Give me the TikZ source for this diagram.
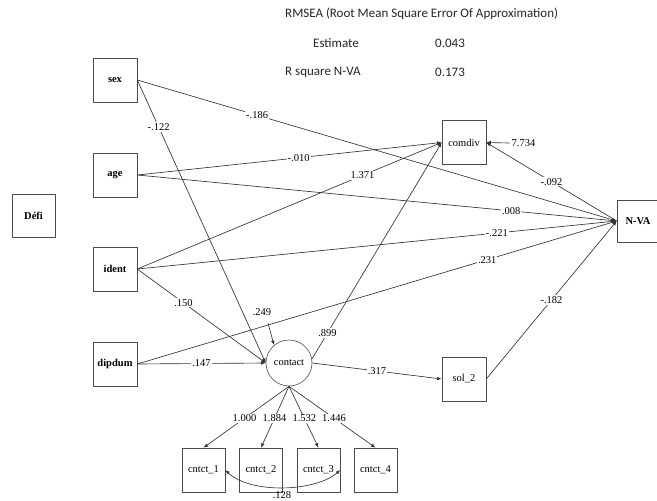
\documentclass[tikz,border=0pt]{standalone}
\usepackage{fontspec}
\setmainfont{Liberation Serif}
\newfontfamily\hdrfont{Carlito}
\usetikzlibrary{arrows.meta}
\begin{document}
\begin{tikzpicture}[x=1pt,y=-1pt,
  line/.style={draw=black!80, line width=0.65pt},
  arr/.style={line, -{Latex[length=4.5pt,width=3.5pt]}},
  boxnode/.style={draw=black!70, line width=0.6pt, minimum width=44pt, minimum height=44pt, inner sep=0pt, font=\fontsize{10.5}{12}\selectfont},
  boldbox/.style={boxnode, font=\fontsize{10.5}{12}\selectfont\bfseries},
  circnode/.style={draw=black!70, line width=0.6pt, circle, minimum size=46pt, inner sep=0pt, font=\fontsize{10.5}{12}\selectfont},
  lbl/.style={fill=white, inner sep=1pt, font=\fontsize{10.5}{12}\selectfont},
  hdr/.style={font=\hdrfont\fontsize{13}{15}\selectfont, text=black!85, inner sep=0pt}
]
\useasboundingbox (0,0) rectangle (657,501);

% header
\node[hdr, anchor=west] (h1) at (285,14) {RMSEA (Root Mean Square Error Of Approximation)};
\node[hdr, anchor=west] (h2) at (313,43) {Estimate};
\node[hdr, anchor=west] (h3) at (435,43) {0.043};
\node[hdr, anchor=west] (h4) at (285,72) {R square N-VA};
\node[hdr, anchor=west] (h5) at (435,72) {0.173};

% nodes
\node[boldbox] (sex) at (115,80) {sex};
\node[boldbox] (age) at (115,175) {age};
\node[boldbox] (ident) at (115,269) {ident};
\node[boldbox] (dipdum) at (115,364) {dipdum};
\node[boldbox, minimum width=43pt, minimum height=43pt] (defi) at (33.5,215.5) {Défi};
\node[boxnode] (comdiv) at (464,142.5) {comdiv};
\node[boldbox, minimum width=42pt, minimum height=42pt] (nva) at (638,221) {N-VA};
\node[boxnode] (sol) at (464,379) {sol\_2};
\node[circnode] (contact) at (289,363) {contact};
\node[boxnode, minimum width=43pt] (c1) at (203.5,470) {cntct\_1};
\node[boxnode, minimum width=43pt] (c2) at (261,470) {cntct\_2};
\node[boxnode, minimum width=43pt] (c3) at (318.5,470) {cntct\_3};
\node[boxnode, minimum width=43pt] (c4) at (375.5,470) {cntct\_4};

% paths into N-VA
\draw[arr] (sex.east) -- node[lbl, pos=0.25] {-.186} (nva.west);
\draw[arr] (age.east) -- node[lbl, pos=0.78] {.008} (nva.west);
\draw[arr] (ident.east) -- node[lbl, pos=0.75] {-.221} (nva.west);
\draw[arr] (dipdum.east) -- node[lbl, pos=0.73] {.231} (nva.west);
\draw[arr] (sol.east) -- node[lbl, pos=0.5] {-.182} (nva.west);

% paths into comdiv
\draw[arr] (age.east) -- node[lbl, pos=0.53] {-.010} (comdiv.west);
\draw[arr] (ident.east) -- node[lbl, pos=0.74] {1.371} (comdiv.west);
\draw[arr] (contact.10) -- node[lbl, pos=0.12] {.899} (comdiv.west);
\draw[arr] (nva.west) -- node[lbl, pos=0.5] {-.092} (comdiv.east);

% paths into contact
\draw[arr] (sex.east) -- node[lbl, pos=0.166] {-.122} (contact.west);
\draw[arr] (ident.east) -- node[lbl, pos=0.36] {.150} (contact.west);
\draw[arr] (dipdum.east) -- node[lbl, pos=0.5] {.147} (contact.west);

% contact to sol_2
\draw[arr] (contact.east) -- node[lbl, pos=0.5] {.317} (sol.west);

% loadings
\draw[arr] (contact.south) -- node[lbl, pos=0.52] {1.000} (c1.north);
\draw[arr] (contact.south) -- node[lbl, pos=0.52] {1.884} (c2.north);
\draw[arr] (contact.south) -- node[lbl, pos=0.52] {1.532} (c3.north);
\draw[arr] (contact.south) -- node[lbl, pos=0.52] {1.446} (c4.north);

% error terms
\node[lbl, inner sep=2pt] (e1) at (523.5,143) {7.734};
\draw[arr] (e1.west) -- (comdiv.east);
\node[lbl] (e2) at (262,312) {.249};
\coordinate (e2s) at (268,323);
\draw[arr] (e2s) -- (contact.130);

% covariance
\draw[line, {Latex[length=4.5pt,width=3.5pt]}-{Latex[length=4.5pt,width=3.5pt]}] (c1.east) .. controls +(25,24) and +(-25,22) .. (c3.east);
\node[lbl, fill=none] (cov) at (282,495) {.128};
\end{tikzpicture}
\end{document}
